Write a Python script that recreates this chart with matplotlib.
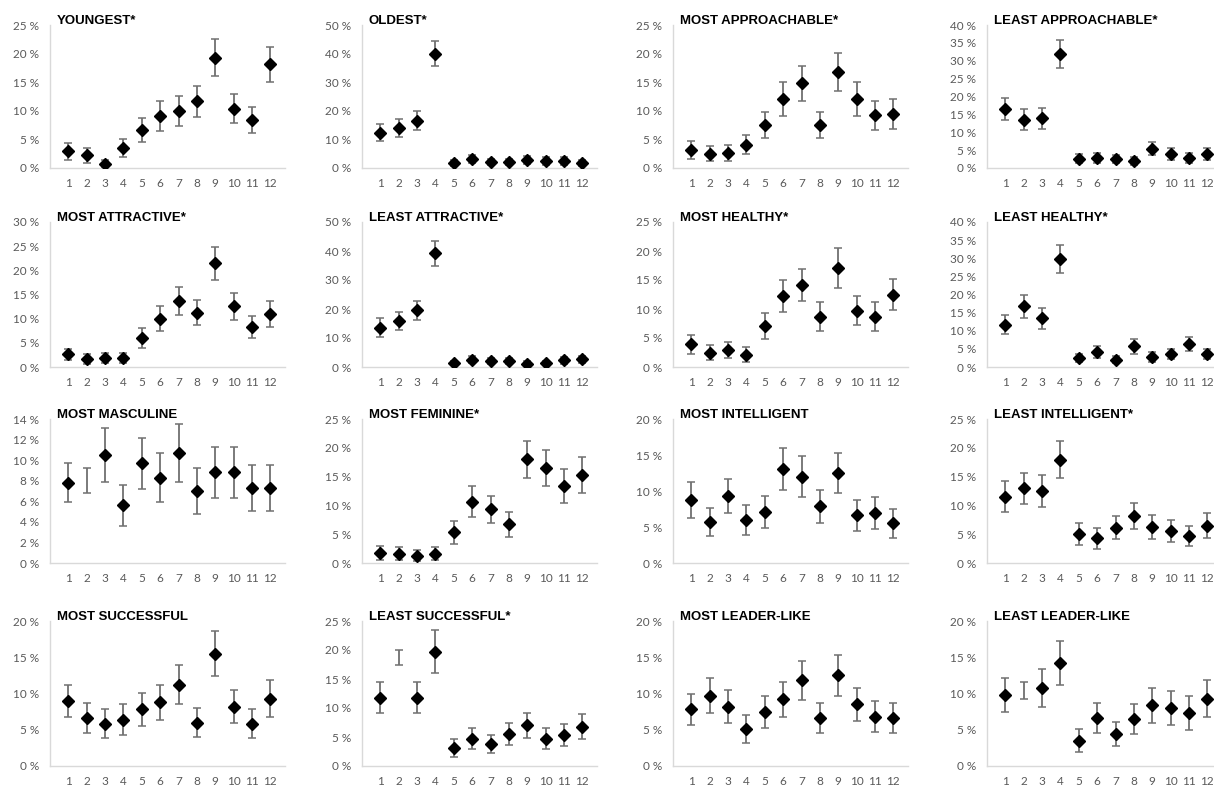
import matplotlib
matplotlib.use('Agg')
import matplotlib.pyplot as plt
import matplotlib.ticker as mticker
import numpy as np

# categories on the x axis
faces = list(range(1, 13))

titles = ['YOUNGEST*', 'OLDEST*', 'MOST APPROACHABLE*', 'LEAST APPROACHABLE*',
          'MOST ATTRACTIVE*', 'LEAST ATTRACTIVE*', 'MOST HEALTHY*', 'LEAST HEALTHY*',
          'MOST MASCULINE', 'MOST FEMININE*', 'MOST INTELLIGENT', 'LEAST INTELLIGENT*',
          'MOST SUCCESSFUL', 'LEAST SUCCESSFUL*', 'MOST LEADER-LIKE', 'LEAST LEADER-LIKE']
y_max = [25, 50, 25, 40, 30, 50, 25, 40, 14, 25, 20, 25, 20, 25, 20, 20]
y_step = [5, 10, 5, 5, 5, 10, 5, 5, 2, 5, 5, 5, 5, 5, 5, 5]

# percentages and +/- error per face
youngest = [2.9, 2.2, 0.7, 3.5, 6.6, 9.1, 10.0, 11.7, 19.3, 10.4, 8.4, 18.1]
youngest_err = [1.5, 1.3, 0.7, 1.6, 2.1, 2.6, 2.6, 2.7, 3.3, 2.6, 2.3, 3.1]
oldest = [12.4, 13.9, 16.5, 40.0, 1.8, 3.2, 2.1, 2.1, 2.9, 2.5, 2.5, 1.8]
oldest_err = [3.0, 3.2, 3.3, 4.4, 1.0, 1.4, 1.2, 1.2, 1.4, 1.3, 1.3, 1.0]
most_appr = [3.2, 2.5, 2.7, 4.1, 7.5, 12.1, 14.8, 7.5, 16.8, 12.1, 9.2, 9.4]
most_appr_err = [1.6, 1.3, 1.4, 1.7, 2.3, 3.0, 3.1, 2.3, 3.3, 3.0, 2.5, 2.6]
least_appr = [16.5, 13.5, 13.9, 31.8, 2.6, 2.9, 2.5, 1.9, 5.4, 4.0, 2.9, 4.0]
least_appr_err = [3.2, 2.9, 3.0, 3.9, 1.3, 1.4, 1.2, 1.1, 1.9, 1.7, 1.4, 1.7]
most_attr = [2.6, 1.7, 1.9, 1.9, 6.0, 10.0, 13.7, 11.2, 21.5, 12.6, 8.3, 10.9]
most_attr_err = [1.2, 1.0, 1.1, 1.1, 2.0, 2.6, 2.9, 2.6, 3.4, 2.8, 2.2, 2.7]
least_attr = [13.6, 15.8, 19.6, 39.3, 1.4, 2.5, 2.1, 2.1, 1.2, 1.4, 2.3, 2.7]
least_attr_err = [3.2, 3.1, 3.3, 4.3, 0.8, 1.2, 1.1, 1.1, 0.8, 0.8, 1.1, 1.2]
most_health = [3.9, 2.5, 2.9, 2.1, 7.1, 12.2, 14.1, 8.7, 17.1, 9.7, 8.7, 12.5]
most_health_err = [1.6, 1.3, 1.4, 1.3, 2.2, 2.8, 2.8, 2.5, 3.4, 2.5, 2.5, 2.7]
least_health = [11.7, 16.7, 13.4, 29.8, 2.5, 4.2, 2.0, 5.7, 2.8, 3.6, 6.3, 3.6]
least_health_err = [2.7, 3.2, 2.9, 3.9, 1.2, 1.6, 1.0, 2.0, 1.3, 1.5, 2.0, 1.5]
masculine = [7.8, 8.0, 10.5, 5.6, 9.7, 8.3, 10.7, 7.0, 8.8, 8.8, 7.3, 7.3]
masculine_err = [1.9, 1.2, 2.65, 2.0, 2.5, 2.4, 2.8, 2.25, 2.5, 2.5, 2.25, 2.25]
feminine = [1.8, 1.6, 1.3, 1.6, 5.3, 10.6, 9.3, 6.7, 18.0, 16.5, 13.4, 15.3]
feminine_err = [1.2, 1.1, 1.0, 1.1, 2.0, 2.7, 2.4, 2.1, 3.2, 3.2, 3.0, 3.1]
most_intel = [8.8, 5.7, 9.3, 6.0, 7.1, 13.1, 12.0, 7.9, 12.5, 6.6, 6.9, 5.5]
most_intel_err = [2.5, 2.0, 2.4, 2.1, 2.2, 2.9, 2.9, 2.3, 2.8, 2.2, 2.2, 2.0]
least_intel = [11.5, 13.0, 12.5, 17.9, 5.0, 4.3, 6.1, 8.2, 6.3, 5.5, 4.7, 6.5]
least_intel_err = [2.7, 2.7, 2.7, 3.2, 1.9, 1.8, 2.0, 2.3, 2.1, 1.9, 1.8, 2.1]
most_succ = [9.0, 6.6, 5.8, 6.4, 7.8, 8.8, 11.2, 6.0, 15.5, 8.2, 5.8, 9.3]
most_succ_err = [2.2, 2.1, 2.0, 2.1, 2.3, 2.4, 2.7, 2.0, 3.1, 2.3, 2.0, 2.5]
least_succ = [11.8, 18.7, 11.8, 19.7, 3.1, 4.7, 3.8, 5.6, 7.0, 4.7, 5.4, 6.8]
least_succ_err = [2.7, 1.3, 2.7, 3.7, 1.5, 1.8, 1.6, 1.9, 2.2, 1.8, 1.9, 2.1]
most_lead = [7.8, 9.7, 8.2, 5.1, 7.4, 9.2, 11.8, 6.6, 12.5, 8.5, 6.8, 6.6]
most_lead_err = [2.2, 2.4, 2.3, 1.9, 2.2, 2.4, 2.7, 2.1, 2.8, 2.3, 2.1, 2.1]
least_lead = [9.8, 10.4, 10.8, 14.2, 3.5, 6.6, 4.4, 6.5, 8.4, 8.0, 7.3, 9.3]
least_lead_err = [2.4, 1.2, 2.6, 3.0, 1.6, 2.1, 1.7, 2.1, 2.4, 2.3, 2.3, 2.5]

# faces drawn without a marker in the source figure
no_marker = {'MOST MASCULINE': [2], 'LEAST SUCCESSFUL*': [2], 'LEAST LEADER-LIKE': [2]}

values = [youngest, oldest, most_appr, least_appr, most_attr, least_attr,
          most_health, least_health, masculine, feminine, most_intel, least_intel,
          most_succ, least_succ, most_lead, least_lead]
errors = [youngest_err, oldest_err, most_appr_err, least_appr_err, most_attr_err,
          least_attr_err, most_health_err, least_health_err, masculine_err,
          feminine_err, most_intel_err, least_intel_err, most_succ_err,
          least_succ_err, most_lead_err, least_lead_err]

W, H = 1214, 788
fig = plt.figure(figsize=(W / 100, H / 100), dpi=100)

col_left = [50, 362, 673, 987]
rows = [(25, 168), (222, 367), (419, 563), (621, 766)]
ax_w = 235

for i, title in enumerate(titles):
    r, c = divmod(i, 4)
    top, bot = rows[r]
    ax = fig.add_axes([col_left[c] / W, 1 - bot / H, ax_w / W, (bot - top) / H])

    x = np.array(faces)
    v = np.array(values[i])
    e = np.array(errors[i])
    ax.errorbar(x, v, yerr=e, fmt='none', ecolor='#707070', elinewidth=1.3,
                capsize=3.2, capthick=1.1, zorder=2)
    show = np.array([f not in no_marker.get(title, []) for f in faces])
    ax.plot(x[show], v[show], 'D', color='black', markersize=5.8, zorder=3)

    ax.set_xlim(0, 12.8)
    ax.set_ylim(0, y_max[i])
    ax.set_xticks(faces)
    ax.set_yticks(np.arange(0, y_max[i] + 0.1, y_step[i]))
    ax.yaxis.set_major_formatter(mticker.FuncFormatter(lambda val, pos: f'{val:.0f} %'))

    for s in ['top', 'right']:
        ax.spines[s].set_visible(False)
    for s in ['left', 'bottom']:
        ax.spines[s].set_color('#d9d9d9')
        ax.spines[s].set_linewidth(1)
    ax.tick_params(axis='both', length=0, labelsize=8.5, labelcolor='#595959')
    ax.tick_params(axis='y', pad=8)
    ax.tick_params(axis='x', pad=7)
    for lab in ax.get_xticklabels() + ax.get_yticklabels():
        lab.set_family('Lato')

    ax.text(0.028, 1.03, title, transform=ax.transAxes, ha='left', va='center',
            fontsize=9.5, fontweight='bold', family='Liberation Sans', color='black')

fig.savefig('out.png', dpi=100)
